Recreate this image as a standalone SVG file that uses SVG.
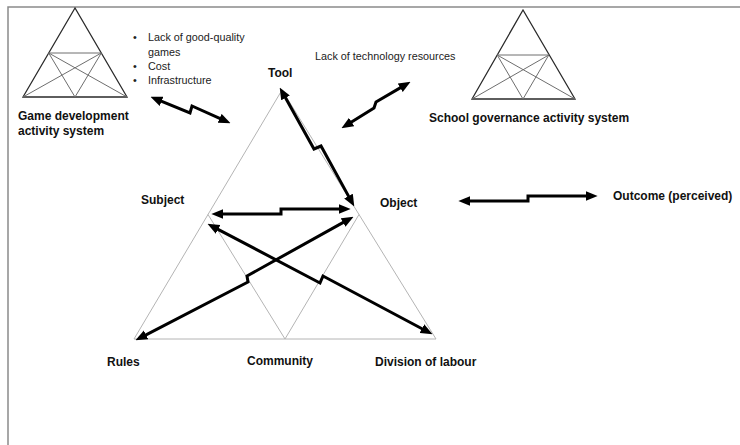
<svg xmlns="http://www.w3.org/2000/svg" width="740" height="445" viewBox="0 0 740 445">
  <style>
    .lbl { font-family: "Liberation Sans", Arial, sans-serif; font-weight: bold; font-size: 12px; fill: #111; }
    .note { font-family: "Liberation Sans", Arial, sans-serif; font-size: 10.8px; fill: #222; }
    .frame { fill: none; stroke: #8a8a8a; stroke-width: 1.5; }
    .outer { fill: none; stroke: #2a2a2a; stroke-width: 1.3; stroke-linejoin: miter; }
    .inner { fill: none; stroke: #6e6e6e; stroke-width: 1; }
    .main { fill: none; stroke: #b4b4b4; stroke-width: 1; }
    .link { fill: none; stroke: #000; stroke-width: 3; stroke-linejoin: miter; }
  </style>
  <defs>
    <marker id="head" markerUnits="userSpaceOnUse" markerWidth="12" markerHeight="10" viewBox="0 0 11 9" refX="4" refY="4.5" orient="auto-start-reverse">
      <path d="M0,0 L11,4.5 L0,9 z" fill="#000"/>
    </marker>
  </defs>

  <rect width="740" height="445" fill="#fff"/>

  <!-- page frame -->
  <path class="frame" d="M8,445 L8,7 L740,7"/>

  <!-- small activity-system triangle: game development -->
  <g id="game-dev-system">
    <polygon class="outer" points="75,8 23,97 127,97"/>
    <path class="inner" d="M48.7,53 L101.3,53 M48.7,53 L75,97 M48.7,53 L127,97 M101.3,53 L75,97 M101.3,53 L23,97"/>
    <text class="lbl" x="18" y="120">Game development</text>
    <text class="lbl" x="18" y="135">activity system</text>
  </g>

  <!-- bullet list of game development issues -->
  <g id="game-dev-issues">
    <text class="note" x="133" y="41">•</text>
    <text class="note" x="148" y="41">Lack of good-quality</text>
    <text class="note" x="148" y="56">games</text>
    <text class="note" x="133" y="70">•</text>
    <text class="note" x="148" y="70">Cost</text>
    <text class="note" x="133" y="84">•</text>
    <text class="note" x="148" y="84">Infrastructure</text>
  </g>

  <!-- small activity-system triangle: school governance -->
  <g id="school-gov-system">
    <polygon class="outer" points="523,10 472,99 575,99"/>
    <path class="inner" d="M497.2,55 L548.8,55 M497.2,55 L523,99 M497.2,55 L575,99 M548.8,55 L523,99 M548.8,55 L472,99"/>
    <text class="lbl" x="429" y="122">School governance activity system</text>
  </g>

  <g id="tech-issue">
    <text class="note" x="315" y="60">Lack of technology resources</text>
  </g>

  <!-- central activity triangle -->
  <g id="activity-triangle">
    <path class="main" d="M282,90 L134,339 M282,90 L436,339"/>
    <path class="main" d="M134,339 L436,339" stroke-width="1.8"/>
    <path class="main" d="M208,214.5 L285,339 L359,214.5"/>
  </g>

  <g id="tool"><text class="lbl" x="268" y="77">Tool</text></g>
  <g id="subject"><text class="lbl" x="141" y="204">Subject</text></g>
  <g id="object"><text class="lbl" x="380" y="207">Object</text></g>
  <g id="outcome"><text class="lbl" x="613" y="200">Outcome (perceived)</text></g>
  <g id="rules"><text class="lbl" x="107" y="366">Rules</text></g>
  <g id="community"><text class="lbl" x="247" y="365">Community</text></g>
  <g id="division"><text class="lbl" x="375" y="366">Division of labour</text></g>

  <!-- tension arrows -->
  <g id="connectors">
    <polyline class="link" marker-start="url(#head)" marker-end="url(#head)" points="157.5,99.7 190,113 192,106 223.6,120.1"/>
    <polyline class="link" marker-start="url(#head)" marker-end="url(#head)" points="404,85.6 376,102 374,108 347.9,124.3"/>
    <polyline class="link" marker-start="url(#head)" marker-end="url(#head)" points="283.4,94.1 314,149 321,146 350.6,199.9"/>
    <polyline class="link" marker-start="url(#head)" marker-end="url(#head)" points="219,214 281,214 281,209 343,209"/>
    <polyline class="link" marker-start="url(#head)" marker-end="url(#head)" points="142.2,336.8 248,282 247,276 346.9,220.4"/>
    <polyline class="link" marker-start="url(#head)" marker-end="url(#head)" points="214.2,227.3 320,283 323,276 425.8,330.7"/>
    <polyline class="link" marker-start="url(#head)" marker-end="url(#head)" points="466,201 528,201 528,196 590,196"/>
  </g>
</svg>
